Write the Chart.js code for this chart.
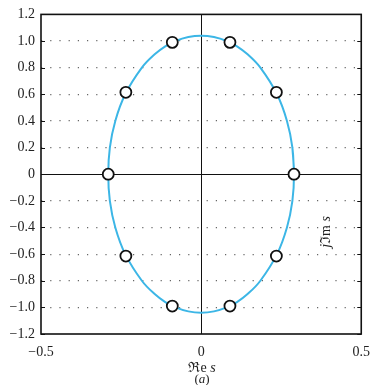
<!DOCTYPE html>
<html>
<head>
<meta charset="utf-8">
<script src="https://cdn.jsdelivr.net/npm/chart.js@4.4.1/dist/chart.umd.min.js"></script>
<style>
  html, body { margin: 0; padding: 0; background: #fff; }
  #wrap { width: 372px; height: 385px; }
</style>
</head>
<body>
<div id="wrap"><canvas id="c" width="372" height="385"></canvas></div>
<script>
  // pole positions (circles)
  var poleRe = [0.29, 0.235, 0.09, -0.09, -0.235, -0.29, -0.235, -0.09, 0.09, 0.235];
  var poleIm = [0, 0.615, 0.99, 0.99, 0.615, 0, -0.615, -0.99, -0.99, -0.615];

  // points
  var curveRe = [0.29, 0.285, 0.268, 0.237, 0.185, 0.145, 0.112, 0.08, 0.04, 0,
    -0.04, -0.08, -0.112, -0.145, -0.185, -0.237, -0.268, -0.285, -0.29,
    -0.285, -0.268, -0.237, -0.185, -0.145, -0.112, -0.08, -0.04, 0,
    0.04, 0.08, 0.112, 0.145, 0.185, 0.237, 0.268, 0.285, 0.29, 0.285];
  var curveIm = [0, 0.2, 0.4, 0.6, 0.8, 0.9, 0.96, 1.0, 1.03, 1.04,
    1.03, 1.0, 0.96, 0.9, 0.8, 0.6, 0.4, 0.2, 0,
    -0.2, -0.4, -0.6, -0.8, -0.9, -0.96, -1.0, -1.03, -1.04,
    -1.03, -1.0, -0.96, -0.9, -0.8, -0.6, -0.4, -0.2, 0, 0.2];

  var xTicks = [-0.5, 0, 0.5];
  var yTicks = [-1.2, -1.0, -0.8, -0.6, -0.4, -0.2, 0, 0.2, 0.4, 0.6, 0.8, 1.0, 1.2];

  function zip(a, b) {
    return a.map(function (v, i) { return { x: v, y: b[i] }; });
  }

  function fmt(v) {
    if (Math.abs(v) < 1e-9) return "0";
    var s = Math.abs(v).toFixed(1);
    return (v < 0 ? "\u2212" : "") + s;
  }

  var SERIF = "'Liberation Serif', 'DejaVu Serif', serif";

  function drawParts(ctx, parts, x, y, size) {
    var w = 0;
    parts.forEach(function (p) {
      ctx.font = (p.i ? "italic " : "") + size + "px " + SERIF;
      w += ctx.measureText(p.t).width;
    });
    var cx = x - w / 2;
    ctx.textAlign = "left";
    ctx.textBaseline = "middle";
    parts.forEach(function (p) {
      ctx.font = (p.i ? "italic " : "") + size + "px " + SERIF;
      ctx.fillText(p.t, cx, y);
      cx += ctx.measureText(p.t).width;
    });
  }

  var framePlugin = {
    id: "frame",
    beforeDatasetsDraw: function (chart) {
      var ctx = chart.ctx, a = chart.chartArea;
      var xs = chart.scales.x, ys = chart.scales.y;
      ctx.save();
      ctx.strokeStyle = "#111";
      ctx.lineWidth = 1;
      var x0 = Math.round(xs.getPixelForValue(0)) + 0.5;
      var y0 = Math.round(ys.getPixelForValue(0)) + 0.5;
      ctx.beginPath();
      ctx.moveTo(a.left, y0); ctx.lineTo(a.right, y0);
      ctx.moveTo(x0, a.top); ctx.lineTo(x0, a.bottom);
      ctx.stroke();
      // inward ticks on the side borders
      ctx.beginPath();
      yTicks.forEach(function (v) {
        var py = Math.round(ys.getPixelForValue(v)) + 0.5;
        ctx.moveTo(a.left, py); ctx.lineTo(a.left + 4, py);
        ctx.moveTo(a.right, py); ctx.lineTo(a.right - 4, py);
      });
      ctx.stroke();
      ctx.restore();
    },
    afterDraw: function (chart) {
      var ctx = chart.ctx, a = chart.chartArea;
      ctx.save();
      ctx.strokeStyle = "#111";
      ctx.lineWidth = 1.6;
      ctx.strokeRect(a.left, a.top, a.right - a.left, a.bottom - a.top);
      ctx.fillStyle = "#222";
      drawParts(ctx, [{ t: "\u211Ce " }, { t: "s", i: true }], 202, 368, 14);
      drawParts(ctx, [{ t: "(" }, { t: "a", i: true }, { t: ")" }], 202, 380, 13);
      ctx.translate(326, 232);
      ctx.rotate(-Math.PI / 2);
      drawParts(ctx, [{ t: "j", i: true }, { t: "\u2111m " }, { t: "s", i: true }], 0, 0, 14);
      ctx.restore();
    }
  };

  new Chart(document.getElementById("c"), {
    type: "scatter",
    data: {
      datasets: [
        {
          data: zip(poleRe, poleIm),
          pointRadius: 5.5,
          pointBorderWidth: 1.8,
          pointBorderColor: "#111",
          pointBackgroundColor: "#fff",
          showLine: false,
          order: 0
        },
        {
          data: zip(curveRe, curveIm),
          showLine: true,
          borderColor: "#3cb6e6",
          borderWidth: 2,
          tension: 0.4,
          pointRadius: 0,
          order: 1
        }
      ]
    },
    plugins: [framePlugin],
    options: {
      responsive: false,
      animation: false,
      layout: { padding: { left: 0, top: 13, right: 9, bottom: 0 } },
      plugins: { legend: { display: false }, tooltip: { enabled: false } },
      scales: {
        x: {
          type: "linear",
          min: -0.5,
          max: 0.5,
          afterFit: function (s) { s.height = 51; },
          afterBuildTicks: function (s) {
            s.ticks = xTicks.map(function (v) { return { value: v }; });
          },
          grid: { display: false },
          border: { display: false },
          ticks: {
            padding: 2,
            color: "#222",
            font: { family: SERIF, size: 14 },
            callback: function (v) { return fmt(v); }
          }
        },
        y: {
          type: "linear",
          min: -1.2,
          max: 1.2,
          afterFit: function (s) { s.width = 41; },
          afterBuildTicks: function (s) {
            s.ticks = yTicks.map(function (v) { return { value: v }; });
          },
          grid: {
            drawTicks: false,
            lineWidth: 1.2,
            color: function (c) {
              var v = c.tick ? c.tick.value : 0;
              if (Math.abs(v) < 1e-9 || Math.abs(Math.abs(v) - 1.2) < 1e-9) return "rgba(0,0,0,0)";
              return "#666";
            }
          },
          border: { display: false, dash: [1.2, 8] },
          ticks: {
            padding: 6,
            color: "#222",
            font: { family: SERIF, size: 14 },
            callback: function (v) { return fmt(v); }
          }
        }
      }
    }
  });
</script>
</body>
</html>
